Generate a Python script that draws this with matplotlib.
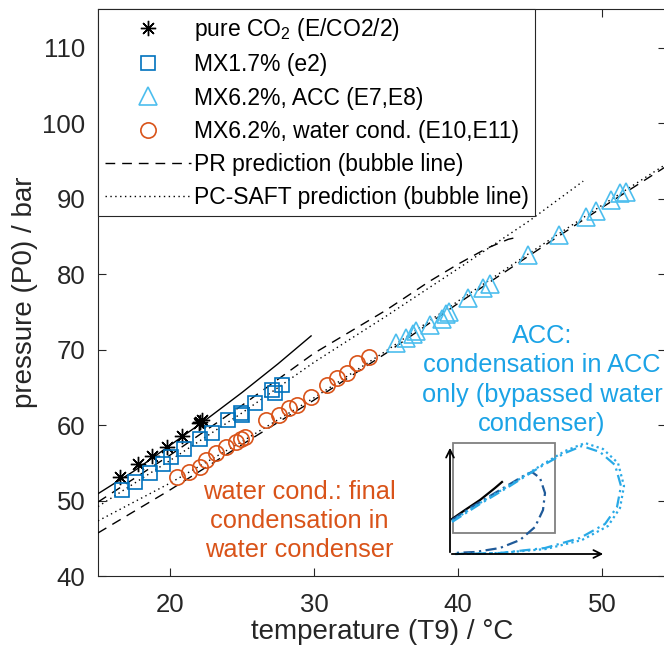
import matplotlib
matplotlib.use('Agg')
import matplotlib.pyplot as plt
from matplotlib.lines import Line2D
from matplotlib.patches import Rectangle
import numpy as np

plt.rcParams['font.family'] = ['Liberation Sans', 'DejaVu Sans']
plt.rcParams['mathtext.fontset'] = 'custom'
plt.rcParams['mathtext.rm'] = 'Liberation Sans'

# ---------------- data ----------------
co2_T = [16.5, 17.8, 18.75, 19.8, 20.8, 22.1, 22.2, 22.0]
co2_p = [53.1, 54.8, 55.9, 57.1, 58.5, 60.4, 60.6, 60.2]

mx17_T = [16.65, 17.6, 18.6, 19.5, 20.1, 21.0, 22.1, 22.9, 24.05, 24.9, 25.0, 25.9, 27.1, 27.75, 27.3]
mx17_p = [51.4, 52.5, 53.7, 54.9, 55.8, 56.8, 58.1, 58.9, 60.7, 61.6, 61.3, 62.9, 64.6, 65.3, 64.2]

acc_T = [35.7, 36.4, 36.9, 37.1, 38.05, 38.9, 39.2, 39.4, 40.7, 41.75, 42.2, 44.9, 47.0, 48.9, 49.6, 50.6, 51.25, 51.7]
acc_p = [70.8, 71.5, 72.1, 72.4, 73.2, 74.1, 74.7, 75.0, 76.8, 78.1, 78.7, 82.5, 85.2, 87.6, 88.3, 89.8, 90.7, 90.9]

wc_T = [20.5, 21.3, 22.1, 22.5, 23.2, 23.9, 24.6, 24.9, 25.2, 26.7, 27.6, 28.3, 28.8, 29.8, 30.9, 31.6, 32.3, 33.0, 33.8]
wc_p = [53.15, 53.8, 54.5, 55.4, 56.3, 57.1, 57.8, 58.2, 58.4, 60.7, 61.3, 62.3, 62.6, 63.75, 65.3, 66.2, 66.9, 68.2, 69.0]

# pure CO2 saturation line
sat_T = [15.0, 17.5, 20.0, 22.5, 25.0, 27.5, 29.8]
sat_p = [50.9, 53.9, 57.3, 60.7, 64.3, 68.1, 71.8]

# MX1.7 % predictions
pr17_T = [15.0, 20.0, 25.0, 30.0, 35.0, 38.0, 40.0, 42.0, 43.5, 44.2]
pr17_p = [49.8, 56.0, 62.6, 69.5, 75.2, 79.0, 81.3, 83.4, 84.6, 84.9]
pc17_T = [15.0, 20.0, 25.0, 30.0, 35.0, 40.0, 45.0, 48.7]
pc17_p = [49.2, 55.3, 61.6, 68.3, 74.4, 80.7, 87.1, 92.3]

# MX6.2 % predictions
pr62_T = [15.0, 20.0, 25.0, 30.0, 35.0, 40.0, 45.0, 50.0, 54.5]
pr62_p = [45.7, 51.4, 57.4, 63.3, 69.5, 76.1, 82.5, 88.8, 94.3]
pc62_T = [15.0, 20.0, 25.0, 30.0, 35.0, 40.0, 45.0, 50.0, 54.5]
pc62_p = [47.3, 52.3, 57.8, 63.6, 69.8, 76.4, 82.8, 89.1, 94.6]

xticks = [20, 30, 40, 50]
yticks = [40, 50, 60, 70, 80, 90, 100, 110]

# inset schematic (local coordinates)
ins_black_x = [2, 15, 30, 45, 52]
ins_black_y = [37, 46, 56, 68, 74]
ins_dark_x = [2, 20, 40, 60, 75, 82, 90, 95, 93, 85, 70, 50, 25, 3]
ins_dark_y = [36, 48, 60, 72, 81, 84, 78, 63, 46, 29, 16, 8, 4, 3]
ins_light_x = [2, 30, 60, 90, 115, 132, 150, 165, 171, 167, 155, 130, 95, 50, 5]
ins_light_y = [34, 52, 70, 89, 103, 110, 104, 91, 70, 49, 32, 18, 8, 3, 2]
ins_light2_x = [2, 30, 60, 90, 115, 135, 153, 168, 174, 170, 158, 132, 96, 50, 5]
ins_light2_y = [35, 53, 71, 90, 105, 113, 107, 93, 70, 48, 30, 16, 7, 3, 2]

C_BLUE = '#0072BD'
C_CYAN = '#4DBEEE'
C_ORANGE = '#D95319'
C_TEXTCYAN = '#1BA3E6'
C_AX = '#262626'

# ---------------- figure ----------------
fig = plt.figure(figsize=(6.64, 6.57), dpi=100)
W, H = 664, 657
ax = fig.add_axes([98 / W, (H - 576) / H, (666 - 98) / W, (576 - 9) / H])
ax.set_xlim(15, 54.45)
ax.set_ylim(40, 115.1)

lw = 1.0
ax.plot(sat_T, sat_p, color='k', lw=lw, zorder=3)
ax.plot(pr17_T, pr17_p, color='k', lw=lw, dashes=(7, 5), zorder=3)
ax.plot(pc17_T, pc17_p, color='k', lw=lw, dashes=(1, 2.5), zorder=3)
ax.plot(pr62_T, pr62_p, color='k', lw=lw, dashes=(7, 5), zorder=3)
ax.plot(pc62_T, pc62_p, color='k', lw=lw, dashes=(1, 2.5), zorder=3)

ast = (8, 2, 0)
ax.plot(co2_T, co2_p, ls='none', marker=ast, ms=11, mec='k', mew=1.0, zorder=4)
ax.plot(mx17_T, mx17_p, ls='none', marker='s', ms=10, mfc='none', mec=C_BLUE, mew=1.2, zorder=4)
ax.plot(acc_T, acc_p, ls='none', marker='^', ms=12.5, mfc='none', mec=C_CYAN, mew=1.2, zorder=4)
ax.plot(wc_T, wc_p, ls='none', marker='o', ms=11, mfc='none', mec=C_ORANGE, mew=1.2, zorder=4)

ax.set_xticks(xticks)
ax.set_yticks(yticks)
ax.tick_params(direction='in', length=6, width=0.8, top=True, right=True,
               labelsize=18.5, colors=C_AX)
ax.tick_params(axis='x', pad=12)
ax.tick_params(axis='y', pad=9)
for s in ax.spines.values():
    s.set_color(C_AX)
    s.set_linewidth(0.8)
ax.set_xlabel('temperature (T9) / °C', fontsize=20, color=C_AX, labelpad=2)
ax.set_ylabel('pressure (P0) / bar', fontsize=20, color=C_AX, labelpad=3)

# legend
handles = [
    Line2D([], [], ls='none', marker=ast, ms=11, mec='k', mew=1.0),
    Line2D([], [], ls='none', marker='s', ms=10, mfc='none', mec=C_BLUE, mew=1.2),
    Line2D([], [], ls='none', marker='^', ms=12.5, mfc='none', mec=C_CYAN, mew=1.2),
    Line2D([], [], ls='none', marker='o', ms=11, mfc='none', mec=C_ORANGE, mew=1.2),
    Line2D([], [], color='k', lw=lw, dashes=(7, 5)),
    Line2D([], [], color='k', lw=lw, dashes=(1, 2.5)),
]
labels = [r'pure CO$_\mathrm{2}$ (E/CO2/2)', 'MX1.7% (e2)', 'MX6.2%, ACC (E7,E8)',
          'MX6.2%, water cond. (E10,E11)', 'PR prediction (bubble line)',
          'PC-SAFT prediction (bubble line)']
leg = ax.legend(handles, labels, loc='upper left', bbox_to_anchor=(0, 1),
                borderaxespad=0, fontsize=16.5, handlelength=3.75, handletextpad=0.12,
                labelspacing=0.45, borderpad=0.3, fancybox=False, framealpha=1,
                edgecolor=C_AX)
leg.get_frame().set_linewidth(0.8)
leg.set_zorder(10)

# annotations
fig.text(299 / W, 1 - 521 / H, 'water cond.: final\ncondensation in\nwater condenser',
         fontsize=18.3, color=C_ORANGE, ha='center', va='center', linespacing=1.28)
fig.text(542 / W, 1 - 380 / H, 'ACC:\ncondensation in ACC\nonly (bypassed water\ncondenser)',
         fontsize=18.3, color=C_TEXTCYAN, ha='center', va='center', linespacing=1.28)

# inset schematic
ins = fig.add_axes([450 / W, (H - 556) / H, 178 / W, 118 / H])
ins.set_xlim(0, 178)
ins.set_ylim(0, 118)
ins.axis('off')
ins.add_patch(Rectangle((3, 23), 102, 90, fill=False, ec='#808080', lw=1.3))
ins.annotate('', xy=(0, 111), xytext=(0, 1),
             arrowprops=dict(arrowstyle='->', color='k', lw=1.3, mutation_scale=14))
ins.annotate('', xy=(156, 2), xytext=(-1, 2),
             arrowprops=dict(arrowstyle='->', color='k', lw=1.3, mutation_scale=14))
ins.plot(ins_black_x, ins_black_y, color='k', lw=1.6)
ins.plot(ins_dark_x, ins_dark_y, color='#1F5A99', lw=1.6, dashes=(5, 2, 1, 2))
ins.plot(ins_light_x, ins_light_y, color='#29A9E6', lw=1.6, dashes=(5, 2, 1, 2))
ins.plot(ins_light2_x, ins_light2_y, color='#29A9E6', lw=1.6, dashes=(1, 1.5))

fig.savefig('out.png', dpi=100)
